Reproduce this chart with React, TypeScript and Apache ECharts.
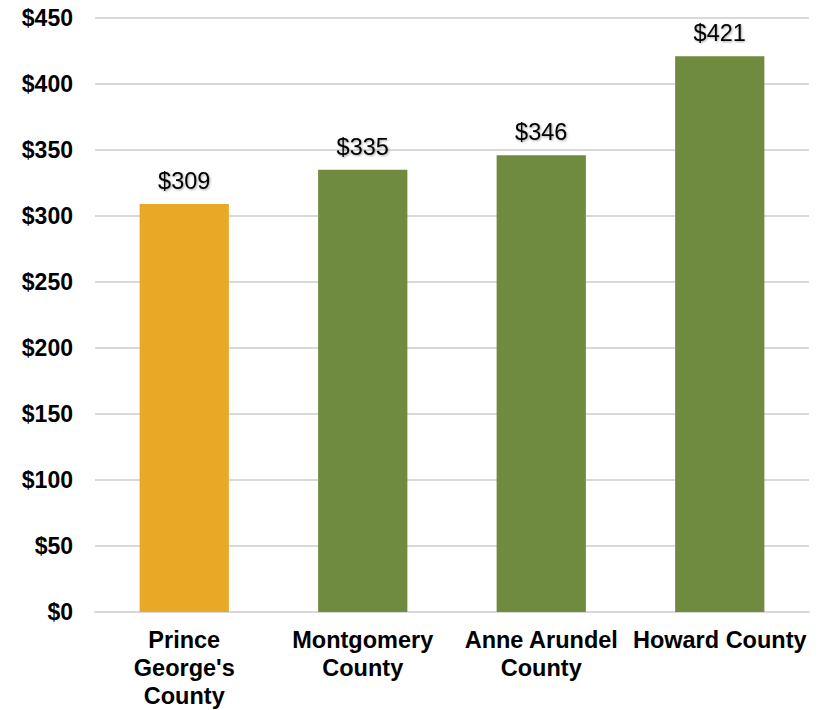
import React, { useEffect, useRef } from "react";
import * as echarts from "echarts";

const categories = ["Prince\nGeorge's\nCounty", "Montgomery\nCounty", "Anne Arundel\nCounty", "Howard County"];
const values = [309, 335, 346, 421];
const barColors = ["#E9A825", "#6F8B3F", "#6F8B3F", "#6F8B3F"];

export default function App() {
  const ref = useRef<HTMLDivElement>(null);
  useEffect(() => {
    const chart = echarts.init(ref.current!, null, { renderer: "svg" });
    chart.setOption({
      animation: false,
      backgroundColor: "#ffffff",
      grid: { left: 95, right: 22, top: 18, bottom: 98 },
      xAxis: {
        type: "category",
        data: categories,
        axisLine: { lineStyle: { color: "#D9D9D9", width: 2 } },
        axisTick: { show: false },
        axisLabel: {
          interval: 0,
          color: "#000",
          fontFamily: "Liberation Sans, Arial, sans-serif",
          fontWeight: "bold",
          fontSize: 23.5,
          lineHeight: 28,
          margin: 14,
        },
      },
      yAxis: {
        type: "value",
        min: 0,
        max: 450,
        interval: 50,
        axisLine: { show: false },
        axisTick: { show: false },
        splitLine: { lineStyle: { color: "#D9D9D9", width: 2 } },
        axisLabel: {
          color: "#000",
          fontFamily: "Liberation Sans, Arial, sans-serif",
          fontWeight: "bold",
          fontSize: 23,
          margin: 22,
          formatter: (v: number) => "$" + v,
        },
      },
      series: [
        {
          type: "bar",
          barWidth: "50%",
          data: values.map((v, i) => ({ value: v, itemStyle: { color: barColors[i] } })),
          label: {
            show: true,
            position: "top",
            distance: 11,
            color: "#000",
            fontFamily: "Liberation Sans, Arial, sans-serif",
            fontSize: 23.5,
            textShadowColor: "rgba(0,0,0,0.35)",
            textShadowBlur: 2,
            textShadowOffsetX: 1,
            textShadowOffsetY: 1,
            formatter: (p: any) => "$" + p.value,
          },
        },
      ],
    });
    return () => chart.dispose();
  }, []);
  return <div ref={ref} style={{ position: "fixed", left: 0, top: 0, width: 831, height: 710 }} />;
}
